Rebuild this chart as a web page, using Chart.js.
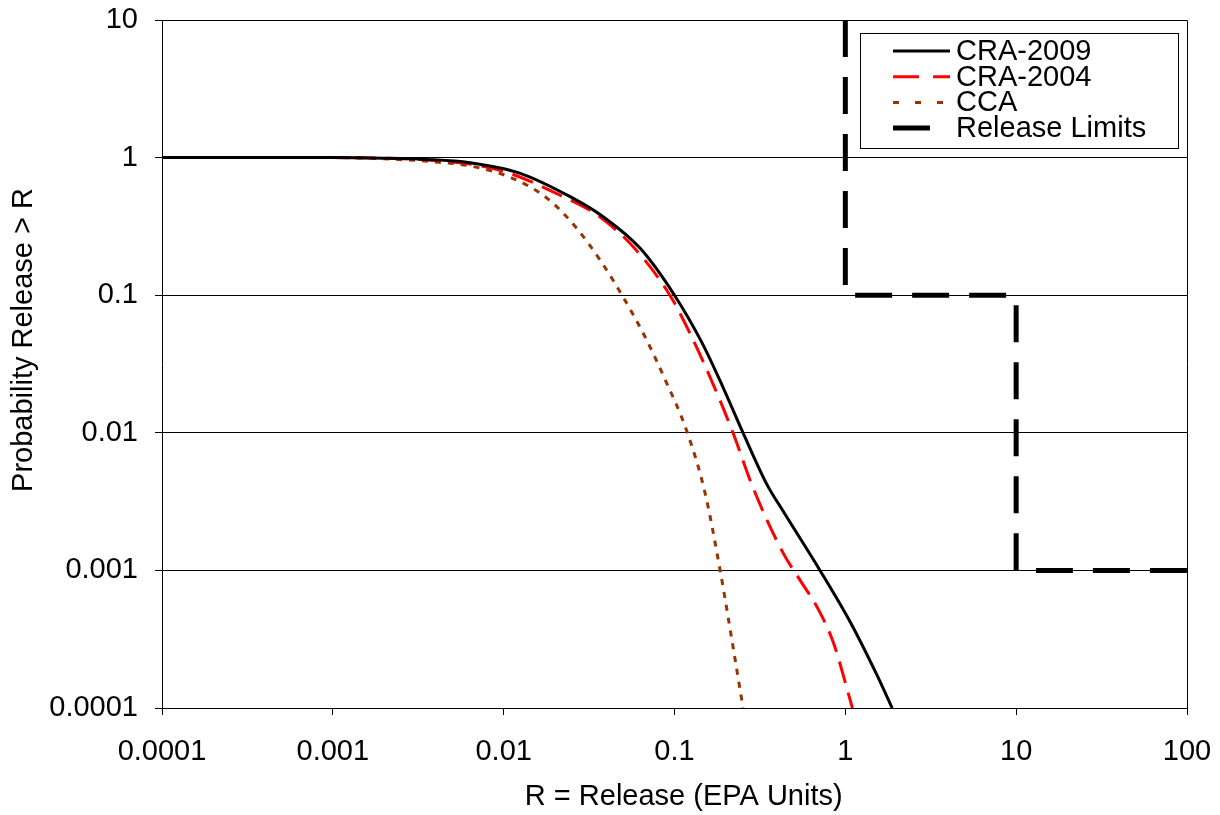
<!DOCTYPE html>
<html>
<head>
<meta charset="utf-8">
<script src="https://cdn.jsdelivr.net/npm/chart.js@4.4.1/dist/chart.umd.min.js"></script>
<style>
  html, body { margin: 0; padding: 0; background: #fff; }
  #wrap { width: 1220px; height: 815px; }
</style>
</head>
<body>
<div id="wrap"><canvas id="releaseChart" width="1220" height="815"></canvas></div>
<script>
// values (log-log)
const cra2009X = [0.0001, 0.001, 0.002, 0.0035, 0.00635, 0.0125, 0.0245, 0.0382, 0.063, 0.1, 0.145, 0.192, 0.252, 0.348, 0.432, 0.711, 1.07, 1.53, 1.88];
const cra2009Y = [1, 1, 0.99, 0.97, 0.918, 0.769, 0.52, 0.372, 0.219, 0.1, 0.045, 0.0215, 0.01, 0.0042, 0.0027, 0.001, 0.00042, 0.000174, 0.0001];

const cra2004X = [0.0001, 0.001, 0.002, 0.0035, 0.0095, 0.0223, 0.0352, 0.0573, 0.094, 0.123, 0.177, 0.22, 0.288, 0.432, 0.543, 0.684, 0.85, 1.10];
const cra2004Y = [1, 1, 0.99, 0.965, 0.81, 0.52, 0.383, 0.225, 0.1, 0.053, 0.0195, 0.01, 0.004, 0.00134, 0.00085, 0.00054, 0.0003, 0.0001];

const ccaX = [0.0001, 0.001, 0.002, 0.004, 0.00635, 0.0109, 0.0179, 0.0269, 0.0377, 0.0493, 0.0673, 0.0857, 0.119, 0.151, 0.185, 0.217, 0.252];
const ccaY = [1, 1, 0.98, 0.93, 0.87, 0.72, 0.508, 0.304, 0.171, 0.1, 0.0497, 0.0263, 0.01, 0.00365, 0.001, 0.00031, 0.0001];

const limitX = [1, 1, 10, 10, 100];
const limitY = [10, 0.1, 0.1, 0.001, 0.001];

const xTicks = [0.0001, 0.001, 0.01, 0.1, 1, 10, 100];
const yTicks = [0.0001, 0.001, 0.01, 0.1, 1, 10];

const xTitle = 'R = Release (EPA Units)';
const yTitle = 'Probability Release > R';

const FONT = "'Liberation Sans', Arial, sans-serif";
const FONT_SIZE = 29;

// legend sample styles (Excel stretches the dash pattern in the key)
const legendDash = [[], [26, 14], [6, 16], []];
const legendLen = [57, 57, 57, 37];

function pts(xs, ys) {
    return xs.map((x, i) => ({ x: x, y: ys[i] }));
}

// legend, frame and axis titles drawn like the Excel original
const boxLegend = {
    id: 'boxLegend',
    afterDraw(chart) {
        const ctx = chart.ctx;
        const area = chart.chartArea;
        ctx.save();

        // plot frame top and right
        ctx.strokeStyle = '#000';
        ctx.lineWidth = 1;
        ctx.beginPath();
        ctx.moveTo(Math.round(area.left), Math.round(area.top) + 0.5);
        ctx.lineTo(Math.round(area.right) + 0.5, Math.round(area.top) + 0.5);
        ctx.lineTo(Math.round(area.right) + 0.5, Math.round(area.bottom));
        ctx.stroke();

        const left = area.right - 327;
        const top = area.top + 13;
        const w = 318;
        const h = 115;
        ctx.fillStyle = '#fff';
        ctx.fillRect(left, top, w, h);
        ctx.strokeRect(left + 0.5, top + 0.5, w, h);
        ctx.font = FONT_SIZE + 'px ' + FONT;
        ctx.textBaseline = 'middle';
        chart.data.datasets.forEach((ds, i) => {
            const y = top + 18 + i * 25.7;
            const x0 = left + 33;
            ctx.beginPath();
            ctx.setLineDash(legendDash[i]);
            ctx.lineWidth = ds.borderWidth;
            ctx.strokeStyle = ds.borderColor;
            ctx.moveTo(x0, y);
            ctx.lineTo(x0 + legendLen[i], y);
            ctx.stroke();
            ctx.setLineDash([]);
            ctx.fillStyle = '#000';
            ctx.fillText(ds.label, left + 96, y + 1);
        });

        // axis titles
        ctx.fillStyle = '#000';
        ctx.textAlign = 'center';
        ctx.textBaseline = 'middle';
        ctx.fillText(xTitle, area.left + (area.right - area.left) * 0.509, 797);
        ctx.translate(24, 340);
        ctx.rotate(-Math.PI / 2);
        ctx.fillText(yTitle, 0, 0);
        ctx.restore();
    }
};

const ctx = document.getElementById('releaseChart').getContext('2d');
const releaseChart = new Chart(ctx, {
    type: 'scatter',
    data: {
        datasets: [{
            label: 'CRA-2009',
            data: pts(cra2009X, cra2009Y),
            borderColor: '#000000',
            borderWidth: 3,
            cubicInterpolationMode: 'monotone'
        }, {
            label: 'CRA-2004',
            data: pts(cra2004X, cra2004Y),
            borderColor: '#ff0000',
            borderWidth: 3,
            borderDash: [22, 10],
            cubicInterpolationMode: 'monotone'
        }, {
            label: 'CCA',
            data: pts(ccaX, ccaY),
            borderColor: '#993300',
            borderWidth: 3,
            borderDash: [6, 7],
            cubicInterpolationMode: 'monotone'
        }, {
            label: 'Release Limits',
            data: pts(limitX, limitY),
            borderColor: '#000000',
            borderWidth: 5,
            borderDash: [37, 20],
            tension: 0
        }]
    },
    options: {
        responsive: false,
        animation: false,
        showLine: true,
        elements: {
            point: { radius: 0, hoverRadius: 0 },
            line: { fill: false, borderCapStyle: 'butt' }
        },
        layout: {
            padding: { top: 20, right: 33, left: 0, bottom: 0 }
        },
        plugins: {
            legend: { display: false },
            tooltip: { enabled: false }
        },
        scales: {
            x: {
                type: 'logarithmic',
                min: 0.0001,
                max: 100,
                afterBuildTicks: (scale) => {
                    scale.ticks = xTicks.map(v => ({ value: v }));
                },
                afterFit: (scale) => {
                    scale.height = 107;
                    scale.paddingLeft = 0;
                    scale.paddingRight = 0;
                },
                ticks: {
                    callback: (v) => String(v),
                    font: { family: FONT, size: FONT_SIZE },
                    color: '#000',
                    padding: 20,
                    maxRotation: 0,
                    autoSkip: false
                },
                grid: {
                    drawOnChartArea: false,
                    drawTicks: true,
                    tickLength: 7,
                    color: '#000'
                },
                border: { display: true, color: '#000', width: 1 }
            },
            y: {
                type: 'logarithmic',
                min: 0.0001,
                max: 10,
                afterBuildTicks: (scale) => {
                    scale.ticks = yTicks.map(v => ({ value: v }));
                },
                afterFit: (scale) => {
                    scale.width = 162;
                    scale.paddingTop = 0;
                    scale.paddingBottom = 0;
                },
                ticks: {
                    callback: (v) => String(v),
                    font: { family: FONT, size: FONT_SIZE },
                    color: '#000',
                    padding: 17,
                    autoSkip: false
                },
                grid: {
                    drawOnChartArea: true,
                    drawTicks: true,
                    tickLength: 7,
                    color: '#000',
                    lineWidth: 1
                },
                border: { display: true, color: '#000', width: 1 }
            }
        }
    },
    plugins: [boxLegend]
});
</script>
</body>
</html>
